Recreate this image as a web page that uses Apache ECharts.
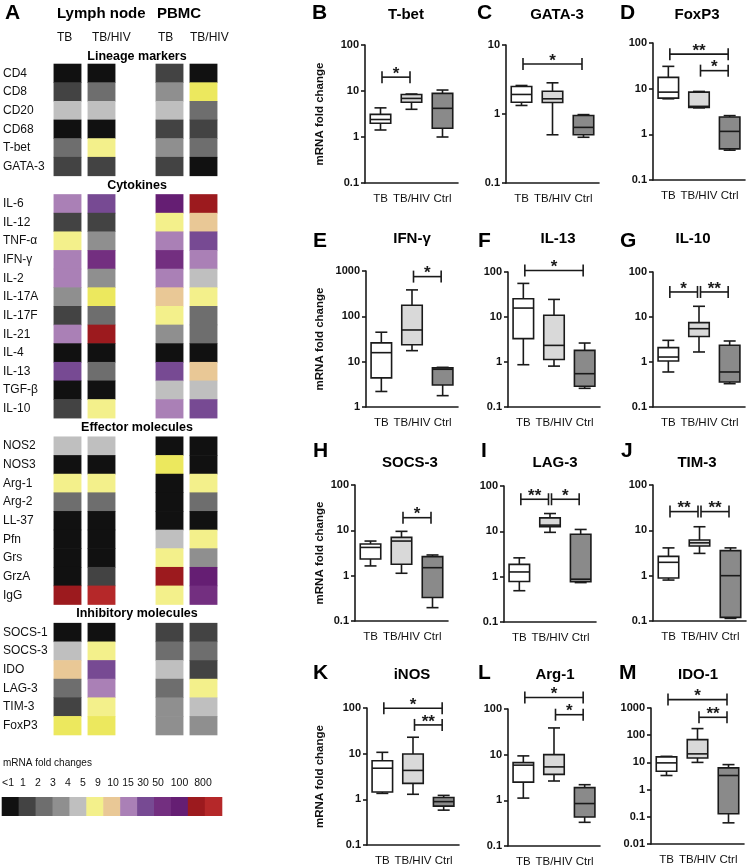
<!DOCTYPE html>
<html><head><meta charset="utf-8">
<script src="https://cdn.jsdelivr.net/npm/echarts@6/dist/echarts.min.js"></script>
<style>html,body{margin:0;padding:0;background:#fff}#c{width:747px;height:866px}</style>
</head><body><div id="c"></div><script>
const FONT = '"Liberation Sans", Arial, Helvetica, sans-serif';

// ---------- Panel A: heatmap data (levels index into legendLabels; 13 = bright yellow) ----------
const heatColumnLabels = ['TB', 'TB/HIV', 'TB', 'TB/HIV'];
const heatGroups = ['Lymph node', 'PBMC'];
const sectionTitles = ['Lineage markers', 'Cytokines', 'Effector molecules', 'Inhibitory molecules'];
const lineageRows = ['CD4', 'CD8', 'CD20', 'CD68', 'T-bet', 'GATA-3'];
const lineageLevels = [[0,0,1,0],[1,2,3,13],[4,4,4,2],[0,0,1,1],[2,5,3,2],[1,1,1,0]];
const cytokineRows = ['IL-6', 'IL-12', 'TNF-α', 'IFN-γ', 'IL-2', 'IL-17A', 'IL-17F', 'IL-21', 'IL-4', 'IL-13', 'TGF-β', 'IL-10'];
const cytokineLevels = [[7,8,10,11],[1,1,5,6],[5,3,7,8],[7,9,9,7],[7,3,7,4],[3,13,6,5],[1,2,5,2],[7,11,3,2],[0,0,0,0],[8,2,8,6],[0,0,4,4],[1,5,7,8]];
const effectorRows = ['NOS2', 'NOS3', 'Arg-1', 'Arg-2', 'LL-37', 'Pfn', 'Grs', 'GrzA', 'IgG'];
const effectorLevels = [[4,4,0,0],[0,0,13,0],[5,5,0,5],[2,2,0,2],[0,0,0,0],[0,0,4,5],[0,0,5,3],[0,1,11,10],[11,12,5,9]];
const inhibitoryRows = ['SOCS-1', 'SOCS-3', 'IDO', 'LAG-3', 'TIM-3', 'FoxP3'];
const inhibitoryLevels = [[0,0,1,1],[4,5,2,2],[6,8,4,1],[2,7,2,5],[1,5,3,4],[13,13,3,3]];
const legendTitle = 'mRNA fold changes';
const legendLabels = ['<1', '1', '2', '3', '4', '5', '9', '10', '15', '30', '50', '100', '800'];
const legendTickLabels = ['<1', '1', '2', '3', '4', '5', '9', '10', '15', '30', '50', '100', '', '800'];

// ---------- Panels B-M: box plots [min, Q1, median, Q3, max] for TB, TB/HIV, Ctrl ----------
const boxGroups = ['TB', 'TB/HIV', 'Ctrl'];
const panelLetters = ['B','C','D','E','F','G','H','I','J','K','L','M'];
const panelTitles = ['T-bet','GATA-3','FoxP3','IFN-γ','IL-13','IL-10','SOCS-3','LAG-3','TIM-3','iNOS','Arg-1','IDO-1'];
const yAxisName = 'mRNA fold change';
const yRanges = [[0.1,100],[0.1,10],[0.1,100],[1,1000],[0.1,100],[0.1,100],[0.1,100],[0.1,100],[0.1,100],[0.1,100],[0.1,100],[0.01,1000]];
const boxTbet  = [[1.42,1.99,2.4,3.1,4.3],[4.0,5.7,6.9,8.4,8.6],[1.0,1.55,4.2,8.9,10.5]];
const boxGata3 = [[1.33,1.48,1.92,2.5,2.59],[0.50,1.47,1.66,2.14,2.83],[0.46,0.50,0.64,0.95,0.98]];
const boxFoxp3 = [[6.0,6.2,8.4,17.7,30.8],[3.8,3.9,4.1,8.4,8.7],[0.45,0.48,1.16,2.4,2.57]];
const boxIfng  = [[2.2,4.4,15.8,26,44.6],[17.5,23.7,50,176,383],[1.78,3.06,6.8,7.3,7.5]];
const boxIl13  = [[0.87,3.3,15.8,25.5,55.8],[0.81,1.14,2.34,10.9,24.6],[0.26,0.29,0.55,1.81,2.64]];
const boxIl10  = [[0.6,1.05,1.29,2.09,3.03],[1.67,3.7,5.5,7.5,17.3],[0.33,0.36,0.6,2.35,2.93]];
const boxSocs3 = [[1.64,2.33,4.2,5.0,5.8],[1.13,1.78,5.8,7.0,9.5],[0.197,0.33,1.5,2.63,2.86]];
const boxLag3  = [[0.49,0.78,1.27,1.87,2.6],[9.5,12.6,13.7,19.8,24.7],[0.74,0.77,0.88,8.6,11]];
const boxTim3  = [[0.80,0.89,1.97,2.67,4.1],[3.1,4.5,5.3,6.1,12],[0.114,0.12,1.0,3.56,4.1]];
const boxInos  = [[1.35,1.45,4.8,7.0,10.7],[1.29,2.24,4.3,9.8,22.9],[0.58,0.71,0.89,1.1,1.22]];
const boxArg1  = [[1.12,2.5,5.9,6.7,9.4],[2.65,3.7,5.4,10,38.5],[0.33,0.43,0.85,1.9,2.2]];
const boxIdo1  = [[3.3,4.7,9.6,15.9,16.7],[10,14.6,20.6,69,175],[0.06,0.13,3.3,6.3,8.3]];
// significance brackets [fromGroup, toGroup, height, stars]
const sigTbet  = [[0,1,20,'*']];
const sigGata3 = [[0,2,5.3,'*']];
const sigFoxp3 = [[0,2,57,'**'],[1,2,24.8,'*']];
const sigIfng  = [[1,2,752,'*']];
const sigIl13  = [[0,2,108,'*']];
const sigIl10  = [[0,1,36,'*'],[1,2,36,'**']];
const sigSocs3 = [[1,2,19,'*']];
const sigLag3  = [[0,1,51,'**'],[1,2,51,'*']];
const sigTim3  = [[0,1,25.9,'**'],[1,2,25.9,'**']];
const sigInos  = [[0,2,99,'*'],[1,2,42.6,'**']];
const sigArg1  = [[0,2,178,'*'],[1,2,75,'*']];
const sigIdo1  = [[0,2,2040,'*'],[1,2,455,'**']];

const boxData = [boxTbet,boxGata3,boxFoxp3,boxIfng,boxIl13,boxIl10,boxSocs3,boxLag3,boxTim3,boxInos,boxArg1,boxIdo1];
const sigData = [sigTbet,sigGata3,sigFoxp3,sigIfng,sigIl13,sigIl10,sigSocs3,sigLag3,sigTim3,sigInos,sigArg1,sigIdo1];

// ---------- styles & layout ----------
const palette = ['#111111','#434343','#6e6e6e','#8f8f8f','#bfbfbf','#f3f08b','#e9c896','#aa80b6','#774a93','#732f80','#651e73','#9c1a1e','#b52829','#ece85e'];
const boxFill = ['#ffffff','#d9d9d9','#8a8a8a'];
const INK = '#1a1a1a';
const panelLayout = [
  {left:365,top:45,bottom:183,width:93,lx:312,ly:15,tx:406,ty:15,nameGap:39},
  {left:506,top:45,bottom:183,width:93,lx:477,ly:15,tx:557,ty:15},
  {left:653,top:43,bottom:180,width:92,lx:620,ly:15,tx:697,ty:15},
  {left:366,top:271,bottom:407,width:92,lx:313,ly:243,tx:412,ty:239,nameGap:40},
  {left:508,top:272,bottom:407,width:92,lx:478,ly:243,tx:558,ty:239},
  {left:653,top:272,bottom:407,width:92,lx:620,ly:243,tx:693,ty:239},
  {left:355,top:485,bottom:621,width:93,lx:313,ly:453,tx:410,ty:463,nameGap:29},
  {left:504,top:486,bottom:622,width:92,lx:481,ly:453,tx:555,ty:463},
  {left:653,top:485,bottom:621,width:93,lx:621,ly:453,tx:697,ty:463},
  {left:367,top:708,bottom:845,width:92,lx:313,ly:675,tx:412,ty:675,nameGap:41},
  {left:508,top:709,bottom:846,width:92,lx:478,ly:675,tx:555,ty:675},
  {left:651,top:708,bottom:844,width:93,lx:619,ly:675,tx:698,ty:675}
];
const heatLayout = {left:50.5, top:64, width:170, height:671};

// ---------- build heatmap rows ----------
const sections = [[lineageRows,lineageLevels],[cytokineRows,cytokineLevels],[effectorRows,effectorLevels],[inhibitoryRows,inhibitoryLevels]];
const heatRowLabels = [];
const heatCells = [];
const sectionRowIdx = [];
sections.forEach(([rows, levels], s) => {
  if (s > 0) { sectionRowIdx.push(heatRowLabels.length); heatRowLabels.push(''); }
  rows.forEach((r, i) => {
    const ri = heatRowLabels.length;
    heatRowLabels.push(r);
    levels[i].forEach((lv, c) => heatCells.push([c < 2 ? c : c + 1, ri, lv]));
  });
});
const rowH = heatLayout.height / heatRowLabels.length;

const grids = [], xAxes = [], yAxes = [], series = [], graphics = [];
const logFmt = v => String(Number((+v).toPrecision(4)));

panelLayout.forEach((L, k) => {
  grids.push({left:L.left, top:L.top, width:L.width, height:L.bottom-L.top, outerBoundsMode:'none'});
  xAxes.push({type:'category', gridIndex:k, data:boxGroups, boundaryGap:true,
    axisLine:{lineStyle:{color:INK,width:1.6}},
    axisTick:{alignWithLabel:true,length:5,lineStyle:{color:INK,width:1.6}},
    axisLabel:{color:'#111',fontSize:11.5,fontFamily:FONT,margin:10,interval:0,hideOverlap:false}});
  yAxes.push({type:'log', logBase:10, gridIndex:k, min:yRanges[k][0], max:yRanges[k][1], interval:1,
    axisLine:{show:true,lineStyle:{color:INK,width:1.6}},
    axisTick:{show:true,length:4,lineStyle:{color:INK,width:1.6}},
    splitLine:{show:false}, minorTick:{show:false},
    axisLabel:{color:'#111',fontSize:11,fontWeight:'bold',fontFamily:FONT,margin:6,formatter:logFmt},
    name: L.nameGap ? yAxisName : '', nameLocation:'middle', nameGap:L.nameGap || 0,
    nameTextStyle:{color:'#111',fontSize:11.5,fontWeight:'bold',fontFamily:FONT}});
  const rows = boxData[k].map((b, i) => [i].concat(b));
  series.push({type:'custom', xAxisIndex:k, yAxisIndex:k, data:rows, encode:{x:0,y:[1,2,3,4,5]},
    renderItem:(params, api) => {
      const i = api.value(0);
      const lo = api.coord([i, api.value(1)]), q1 = api.coord([i, api.value(2)]),
            md = api.coord([i, api.value(3)]), q3 = api.coord([i, api.value(4)]), hi = api.coord([i, api.value(5)]);
      const x = lo[0], bw = 20.5, cw = 12;
      const st = {stroke:INK, lineWidth:1.6};
      return {type:'group', children:[
        {type:'line', shape:{x1:x,y1:hi[1],x2:x,y2:q3[1]}, style:st},
        {type:'line', shape:{x1:x,y1:q1[1],x2:x,y2:lo[1]}, style:st},
        {type:'line', shape:{x1:x-cw/2,y1:hi[1],x2:x+cw/2,y2:hi[1]}, style:st},
        {type:'line', shape:{x1:x-cw/2,y1:lo[1],x2:x+cw/2,y2:lo[1]}, style:st},
        {type:'rect', shape:{x:x-bw/2,y:q3[1],width:bw,height:q1[1]-q3[1]}, style:{fill:boxFill[i],stroke:INK,lineWidth:1.6}},
        {type:'line', shape:{x1:x-bw/2,y1:md[1],x2:x+bw/2,y2:md[1]}, style:st}
      ]};
    }});
  const sig = sigData[k];
  series.push({type:'custom', xAxisIndex:k, yAxisIndex:k, clip:false, data:sig.map(s => [s[0], s[1], s[2]]),
    encode:{x:[0,1], y:2},
    renderItem:(params, api) => {
      const a = api.coord([api.value(0), api.value(2)]), b = api.coord([api.value(1), api.value(2)]);
      const st = {stroke:INK, lineWidth:1.6};
      const x1 = a[0] + 1.5, x2 = b[0] - 1.5, y = a[1];
      return {type:'group', children:[
        {type:'line', shape:{x1:x1,y1:y,x2:x2,y2:y}, style:st},
        {type:'line', shape:{x1:x1,y1:y-6,x2:x1,y2:y+6}, style:st},
        {type:'line', shape:{x1:x2,y1:y-6,x2:x2,y2:y+6}, style:st},
        {type:'text', style:{text:sig[params.dataIndex][3], x:(x1+x2)/2, y:y-3, align:'center', verticalAlign:'middle',
          font:'bold 17px ' + FONT, fill:INK}}
      ]};
    }});
  graphics.push({type:'text', left:L.lx, top:L.ly - 12, style:{text:panelLetters[k], font:'bold 21px ' + FONT, fill:'#000'}});
  graphics.push({type:'text', x:L.tx, y:L.ty, style:{text:panelTitles[k], font:'bold 15px ' + FONT, fill:'#000', align:'center', verticalAlign:'middle'}});
});

// heatmap grid (index 12)
grids.push({left:heatLayout.left, top:heatLayout.top, width:heatLayout.width, height:heatLayout.height, outerBoundsMode:'none'});
xAxes.push({type:'category', gridIndex:12, data:['0','1','2','3','4'], show:false});
yAxes.push({type:'category', gridIndex:12, data:heatRowLabels, inverse:true,
  axisLine:{show:false}, axisTick:{show:false},
  axisLabel:{align:'left', margin:heatLayout.left - 3, fontSize:12, color:'#111', fontFamily:FONT, interval:0}});
series.push({type:'custom', xAxisIndex:12, yAxisIndex:12, data:heatCells, encode:{x:0,y:1},
  renderItem:(params, api) => {
    const c = api.coord([api.value(0), api.value(1)]);
    const s = api.size([1, 1]);
    const w = s[0] * 0.82;
    return {type:'rect', shape:{x:c[0]-w/2, y:c[1]-s[1]/2-0.3, width:w, height:s[1]+0.6},
      style:{fill:palette[api.value(2)]}};
  }});

// legend cells grid (13) & legend label grid (14)
grids.push({left:2, top:797, width:220, height:19, outerBoundsMode:'none'});
xAxes.push({type:'category', gridIndex:13, data:legendLabels, show:false});
yAxes.push({type:'category', gridIndex:13, data:[''], show:false});
series.push({type:'custom', xAxisIndex:13, yAxisIndex:13, data:legendLabels.map((l, i) => [i, 0]), encode:{x:0,y:1},
  renderItem:(params, api) => {
    const c = api.coord([api.value(0), 0]);
    const s = api.size([1, 1]);
    return {type:'rect', shape:{x:c[0]-s[0]/2-0.3, y:c[1]-s[1]/2, width:s[0]+0.6, height:s[1]},
      style:{fill:palette[api.value(0)]}};
  }});
grids.push({left:0.5, top:770, width:210, height:1, outerBoundsMode:'none'});
xAxes.push({type:'category', gridIndex:14, data:legendTickLabels, axisLine:{show:false}, axisTick:{show:false},
  axisLabel:{fontSize:10.5, color:'#111', fontFamily:FONT, margin:7, interval:0, hideOverlap:false,
    formatter: v => v === '100' ? '{s|' + v + '}' : v,
    rich:{s:{fontSize:10.5, color:'#111', fontFamily:FONT, padding:[0,0,0,13]}}}});
yAxes.push({type:'value', gridIndex:14, show:false});

// Panel A texts
graphics.push({type:'text', left:5, top:3, style:{text:'A', font:'bold 21px ' + FONT, fill:'#000'}});
graphics.push({type:'text', x:57, y:14, style:{text:heatGroups[0], font:'bold 15px ' + FONT, fill:'#000', verticalAlign:'middle'}});
graphics.push({type:'text', x:157, y:14, style:{text:heatGroups[1], font:'bold 15px ' + FONT, fill:'#000', verticalAlign:'middle'}});
const colLabelX = [57, 92, 158, 190];
heatColumnLabels.forEach((t, i) => graphics.push({type:'text', x:colLabelX[i], y:38,
  style:{text:t, font:'12px ' + FONT, fill:'#111', verticalAlign:'middle'}}));
const sectionY = [57].concat(sectionRowIdx.map(r => heatLayout.top + (r + 0.5) * rowH));
sectionTitles.forEach((t, i) => graphics.push({type:'text', x:137, y:sectionY[i],
  style:{text:t, font:'bold 12.5px ' + FONT, fill:'#000', align:'center', verticalAlign:'middle'}}));
graphics.push({type:'text', x:3, y:763, style:{text:legendTitle, font:'10px ' + FONT, fill:'#111', verticalAlign:'middle'}});

const chart = echarts.init(document.getElementById('c'), null, {renderer:'canvas'});
chart.setOption({
  backgroundColor:'#fff', animation:false,
  textStyle:{fontFamily:FONT},
  grid:grids, xAxis:xAxes, yAxis:yAxes, series:series, graphic:graphics
});
</script></body></html>
